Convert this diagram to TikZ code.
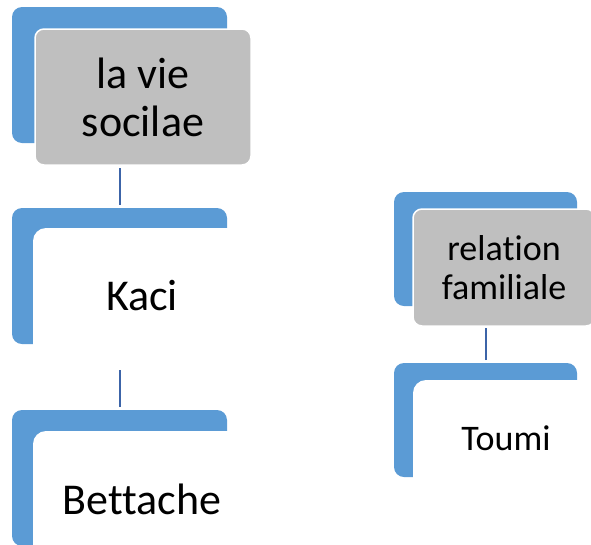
\documentclass[tikz,border=0pt]{standalone}
\usepackage{fontspec}
\setmainfont[Ligatures=NoCommon]{Carlito}
\definecolor{sblue}{HTML}{5B9BD5}
\definecolor{sgrey}{HTML}{BFBFBF}
\definecolor{sline}{HTML}{3C64A8}
\begin{document}
\begin{tikzpicture}[x=1pt,y=-1pt,
  back/.style={fill=sblue, rounded corners=10pt, inner sep=0pt, outer sep=0pt, anchor=north west},
  greybox/.style={fill=sgrey, draw=white, line width=1.5pt, rounded corners=9pt, inner sep=0pt, outer sep=0pt, anchor=north west, align=center, text=black},
  whitebox/.style={fill=white, rounded corners=13pt, inner sep=0pt, outer sep=0pt, anchor=north west, align=center, text=black},
  bigtext/.style={font=\fontsize{44}{48}\selectfont},
  smalltext/.style={font=\fontsize{36}{39}\selectfont},
  conn/.style={draw=sline, line width=2pt}]
\useasboundingbox (0,0) rectangle (591,544);
\clip (0,0) rectangle (591,544);
% left column
\node[back, minimum width=215pt, minimum height=136pt] (p1b) at (12,7) {};
\node[greybox, bigtext, minimum width=216pt, minimum height=136pt] (p1) at (35,29) {la vie\\socilae};
\node[back, minimum width=215pt, minimum height=136pt] (c1b) at (12,208) {};
\node[whitebox, bigtext, minimum width=218pt, minimum height=136pt] (c1) at (33,228) {Kaci};
\node[back, minimum width=215pt, minimum height=136pt] (c2b) at (12,410) {};
\node[whitebox, bigtext, minimum width=218pt, minimum height=136pt] (c2) at (33,431) {Bettache};
% right column
\node[back, minimum width=183pt, minimum height=114pt] (p2b) at (394,192) {};
\node[greybox, smalltext, minimum width=182pt, minimum height=117pt] (p2) at (413,209) {relation\\familiale};
\node[back, minimum width=183pt, minimum height=114pt] (c3b) at (394,363) {};
\node[whitebox, smalltext, minimum width=186pt, minimum height=117pt] (c3) at (413,380) {Toumi};
% connectors
\draw[conn] ([yshift=3pt]c1b.north) -- ([yshift=-3pt]c1b.north |- p1.south);
\draw[conn] ([yshift=3pt]c2b.north) -- ([yshift=-6pt]c2b.north |- c1.south);
\draw[conn] ([yshift=3pt]c3b.north) -- ([yshift=-2pt]c3b.north |- p2.south);
\end{tikzpicture}
\end{document}
